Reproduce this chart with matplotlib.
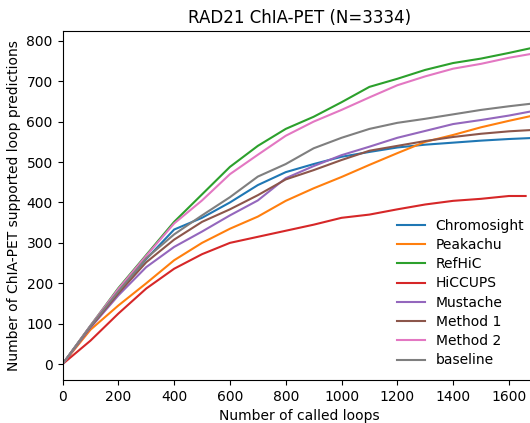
import matplotlib
matplotlib.use("Agg")
import matplotlib.pyplot as plt

# number of called loops (x) and supported predictions
loops = [0, 100, 200, 300, 400, 500, 600, 700, 800, 900, 1000,
         1100, 1200, 1300, 1400, 1500, 1600, 1700]
loops_hiccups = [0, 100, 200, 300, 400, 500, 600, 700, 800, 900, 1000,
                 1100, 1200, 1300, 1400, 1500, 1600, 1660]

chromosight = [0, 94, 180, 260, 333, 362, 400, 443, 475, 495, 513, 525, 536, 543, 548, 553, 557, 560]
peakachu = [0, 85, 145, 200, 257, 300, 335, 365, 404, 435, 463, 493, 522, 550, 567, 586, 602, 617]
refhic = [0, 95, 188, 270, 352, 420, 488, 540, 582, 612, 648, 686, 706, 728, 745, 756, 770, 785]
hiccups = [0, 58, 125, 187, 236, 272, 300, 315, 330, 345, 362, 370, 383, 395, 404, 409, 416, 416]
mustache = [0, 90, 170, 240, 290, 328, 368, 405, 460, 490, 517, 538, 560, 577, 594, 604, 615, 628]
method1 = [0, 92, 175, 252, 308, 352, 383, 418, 457, 480, 505, 528, 540, 552, 562, 570, 576, 580]
method2 = [0, 95, 186, 268, 348, 405, 470, 518, 565, 600, 629, 660, 690, 712, 731, 743, 758, 770]
baseline = [0, 94, 180, 262, 321, 368, 413, 464, 495, 534, 560, 582, 597, 607, 618, 629, 638, 646]

fig = plt.figure(figsize=(5.3, 4.23), dpi=100)
ax = fig.add_axes([0.118, 0.1017, 0.8948, 0.825])

ax.plot(loops, chromosight, label="Chromosight")
ax.plot(loops, peakachu, label="Peakachu")
ax.plot(loops, refhic, label="RefHiC")
ax.plot(loops_hiccups, hiccups, label="HiCCUPS")
ax.plot(loops, mustache, label="Mustache")
ax.plot(loops, method1, label="Method 1")
ax.plot(loops, method2, label="Method 2")
ax.plot(loops, baseline, label="baseline")

ax.set_xlim(0, 1700)
ax.set_title("RAD21 ChIA-PET (N=3334)")
ax.set_xlabel("Number of called loops")
ax.set_ylabel("Number of ChIA-PET supported loop predictions")
ax.legend(loc="lower right", frameon=False, labelspacing=0.38)

fig.savefig("out.png", dpi=100)
